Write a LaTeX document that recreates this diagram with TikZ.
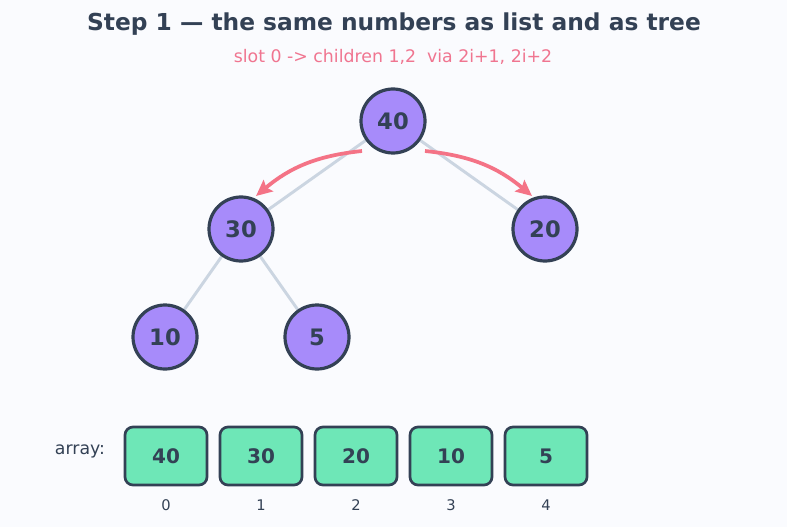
\documentclass[tikz,border=0pt]{standalone}
\usepackage{fontspec}
\setmainfont{DejaVu Sans}
\usetikzlibrary{arrows.meta,calc}
\definecolor{bg}{HTML}{FAFBFE}
\definecolor{ink}{HTML}{334155}
\definecolor{vio}{HTML}{A78BFA}
\definecolor{mint}{HTML}{6EE7B7}
\definecolor{edgec}{HTML}{CBD5E1}
\definecolor{pinkc}{HTML}{F07590}
\definecolor{arrc}{HTML}{F47386}
\begin{document}
\begin{tikzpicture}[x=0.75pt,y=-0.75pt,
  tnode/.style={circle,draw=ink,line width=2.4pt,fill=vio,minimum size=48pt,inner sep=0pt,font=\fontsize{17}{19}\selectfont\bfseries,text=ink},
  cell/.style={rectangle,rounded corners=6pt,draw=ink,line width=2pt,fill=mint,minimum width=61.5pt,minimum height=43.5pt,inner sep=0pt,font=\fontsize{15}{17}\selectfont\bfseries,text=ink},
  idx/.style={font=\fontsize{11}{13}\selectfont,text=ink},
  tedge/.style={draw=edgec,line width=2.2pt},
  hint/.style={draw=arrc,line width=2.8pt,-{Stealth[length=12pt,width=11pt,inset=2pt]}}]
\fill[bg] (0,0) rectangle (787,527);
\useasboundingbox (0,0) rectangle (787,527);
\node[font=\fontsize{17.5}{21}\selectfont\bfseries,text=ink] (title) at (394,24) {Step 1 — the same numbers as list and as tree};
\node[font=\fontsize{13}{15}\selectfont,text=pinkc] (sub) at (393,57) {slot 0 -> children 1,2\ \ via 2i+1, 2i+2};
\coordinate (p40) at (393,121);
\coordinate (p30) at (241,229);
\coordinate (p20) at (545,229);
\coordinate (p10) at (165,337);
\coordinate (p5) at (317,337);
\draw[tedge] (p40) -- (p30);
\draw[tedge] (p40) -- (p20);
\draw[tedge] (p30) -- (p10);
\draw[tedge] (p30) -- (p5);
\node[tnode] (n40) at (p40) {40};
\node[tnode] (n30) at (p30) {30};
\node[tnode] (n20) at (p20) {20};
\node[tnode] (n10) at (p10) {10};
\node[tnode] (n5) at (p5) {5};
\coordinate (aL) at ($(n40.center)+(-31,30)$);
\coordinate (bL) at ($(n30.center)+(15,-33)$);
\coordinate (aR) at ($(n40.center)+(32,30)$);
\coordinate (bR) at ($(n20.center)+(-13,-33)$);
\draw[hint] (aL) to[bend right=17] (bL);
\draw[hint] (aR) to[bend left=17] (bR);
\node[font=\fontsize{13}{15}\selectfont,text=ink] (lab) at (80,451) {array:};
\foreach \v/\i [count=\k from 0] in {40/0,30/1,20/2,10/3,5/4}{
  \node[cell] (c\k) at ({166+95*\k},456) {\v};
  \node[idx] (i\k) at ({166+95*\k},505) {\i};
}
\end{tikzpicture}
\end{document}
